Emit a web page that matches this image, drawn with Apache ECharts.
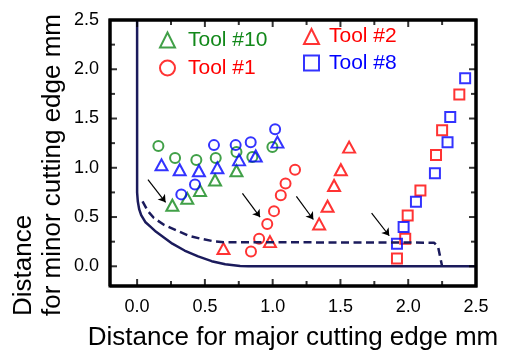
<!DOCTYPE html>
<html><head><meta charset="utf-8">
<script src="https://cdn.jsdelivr.net/npm/echarts@6/dist/echarts.min.js"></script>
<style>html,body{margin:0;padding:0;background:#fff}#c{width:507px;height:356px}</style>
</head><body><div id="c"></div>
<script>
// ---- axis extents and tick values ----
const AX_MIN = -0.2, AX_MAX = 2.5;
const xTickLabels = [0, 0.5, 1, 1.5, 2, 2.5];
const xMinorTicks = [0.25, 0.75, 1.25, 1.75, 2.25];
const yTickLabels = [0, 0.5, 1, 1.5, 2, 2.5];
const yMinorTicks = [0.25, 0.75, 1.25, 1.75, 2.25];

// ---- curves ----
const solidCurve = [[0,2.5],[0,0.75],[0.005,0.66],[0.015,0.58],[0.03,0.52],[0.06,0.45],[0.1,0.40],[0.14,0.35],[0.18,0.31],[0.26,0.23],[0.35,0.16],[0.45,0.10],[0.55,0.052],[0.65,0.02],[0.76,0.002],[0.82,0],[2.5,0]];
const dashedCurve = [[0.04,0.66],[0.08,0.56],[0.124,0.49],[0.2,0.42],[0.297,0.36],[0.38,0.31],[0.469,0.28],[0.56,0.255],[0.64,0.245],[2.19,0.24],[2.22,0.2],[2.25,0]];

// ---- markers ----
const tool10Triangles = [[0.26,0.62],[0.37,0.69],[0.464,0.77],[0.575,0.876],[0.733,0.97]];
const greenCircles    = [[0.157,1.22],[0.28,1.10],[0.437,1.08],[0.58,1.10],[0.733,1.16],[0.85,1.11],[0.998,1.21]];
const blueTriangles   = [[0.18,1.03],[0.314,0.98],[0.456,0.97],[0.592,1.00],[0.752,1.08],[0.875,1.12],[1.035,1.26]];
const blueCircles     = [[0.326,0.73],[0.427,0.83],[0.567,1.23],[0.727,1.23],[0.838,1.26],[1.018,1.39]];
const tool1Circles    = [[0.84,0.15],[0.90,0.28],[0.96,0.43],[1.01,0.56],[1.06,0.72],[1.095,0.84],[1.165,0.98]];
const tool2Triangles  = [[0.637,0.18],[0.98,0.25],[1.343,0.43],[1.405,0.61],[1.453,0.82],[1.503,0.98],[1.564,1.21]];
const redSquares      = [[1.917,0.08],[1.978,0.28],[1.996,0.515],[2.09,0.77],[2.205,1.13],[2.25,1.38],[2.377,1.745]];
const tool8Squares    = [[1.917,0.23],[1.966,0.40],[2.057,0.655],[2.197,0.945],[2.29,1.26],[2.31,1.515],[2.42,1.91]];

// ---- arrows ----
const arrowStarts = [[0.08,0.88],[0.777,0.74],[1.175,0.71],[1.73,0.54]];
const arrowEnds   = [[0.21,0.65],[0.907,0.50],[1.30,0.475],[1.86,0.31]];

const GREEN = '#12881a', RED = '#ff0000', BLUE = '#0000ff', NAVY = '#1b1b5c';
const FONT = '"Liberation Sans", Arial, sans-serif';
const HOLLOW = 'rgba(0,0,0,0)';

function isHalf(v) { return Math.abs(v * 2 - Math.round(v * 2)) < 1e-6 && v > -0.01; }
function scatter(name, data, symbol, size, color) {
  return { type: 'scatter', name, data, symbol, symbolSize: size,
    itemStyle: { color: HOLLOW, borderColor: color, borderWidth: 2 } };
}
// inward tick marks: small bars anchored on the frame at the tick values, shifted inward
function ticks(points, size, offset) {
  return { type: 'scatter', name: 'ticks', data: points, symbol: 'rect', symbolSize: size, symbolOffset: offset,
    clip: false, z: 6, itemStyle: { color: '#000', borderWidth: 0 } };
}
const frameCorners = [[AX_MIN, AX_MIN], [AX_MAX, AX_MIN], [AX_MAX, AX_MAX], [AX_MIN, AX_MAX], [AX_MIN, AX_MIN]];

const chart = echarts.init(document.getElementById('c'));
chart.setOption({
  animation: false,
  grid: { left: 110, right: 31, top: 20, bottom: 62.5, show: true, borderColor: '#000', borderWidth: 3 },
  xAxis: { type: 'value', min: AX_MIN, max: AX_MAX, splitNumber: 5, splitLine: { show: false },
    axisLine: { show: false, onZero: false }, axisTick: { show: false },
    axisLabel: { formatter: v => isHalf(v) ? v.toFixed(1) : '', fontSize: 18, color: '#000', fontFamily: FONT, margin: 12 },
    name: 'Distance for major cutting edge mm', nameLocation: 'middle', nameGap: 39,
    nameTextStyle: { fontSize: 26, fontFamily: FONT, color: '#000' } },
  yAxis: { type: 'value', min: AX_MIN, max: AX_MAX, splitNumber: 5, splitLine: { show: false },
    axisLine: { show: false, onZero: false }, axisTick: { show: false },
    axisLabel: { formatter: v => isHalf(v) ? v.toFixed(1) : '', fontSize: 18, color: '#000', fontFamily: FONT, margin: 11 } },
  legend: [
    { left: 159, top: 29.5, orient: 'vertical', itemWidth: 15, itemHeight: 15, itemGap: 7, padding: 0, selectedMode: false,
      textStyle: { fontSize: 21, fontFamily: FONT, padding: [0, 0, 0, 8] },
      data: [
        { name: 'Tool #10', icon: 'triangle', itemStyle: { color: HOLLOW, borderColor: GREEN, borderWidth: 2 }, textStyle: { color: GREEN } },
        { name: 'Tool #1', icon: 'circle', itemStyle: { color: HOLLOW, borderColor: RED, borderWidth: 2 }, textStyle: { color: RED } }
      ] },
    { left: 303, top: 26, orient: 'vertical', itemWidth: 15, itemHeight: 15, itemGap: 5.5, padding: 0, selectedMode: false,
      textStyle: { fontSize: 21, fontFamily: FONT, padding: [0, 0, 0, 5] },
      data: [
        { name: 'Tool #2', icon: 'triangle', itemStyle: { color: HOLLOW, borderColor: RED, borderWidth: 2 }, textStyle: { color: RED } },
        { name: 'Tool #8', icon: 'rect', itemStyle: { color: HOLLOW, borderColor: BLUE, borderWidth: 2 }, textStyle: { color: BLUE } }
      ] }
  ],
  graphic: [{
    type: 'text', x: 38, y: 316, rotation: Math.PI / 2, silent: true,
    style: { text: 'Distance\nfor minor cutting edge mm', font: '26px ' + FONT, fill: '#000',
      textAlign: 'left', textVerticalAlign: 'middle', align: 'left', verticalAlign: 'middle', lineHeight: 29 }
  }],
  series: [
    { type: 'line', name: 'limit', data: solidCurve, showSymbol: false, symbol: 'none',
      lineStyle: { color: NAVY, width: 2.5 } },
    { type: 'line', name: 'boundary', data: dashedCurve, showSymbol: false, symbol: 'none',
      lineStyle: { color: NAVY, width: 2.5, type: [8, 4.5] },
      markLine: { silent: true, symbol: ['none', 'arrow'], symbolSize: 7, label: { show: false },
        lineStyle: { color: '#000', width: 1.2, type: 'solid' },
        data: arrowStarts.map((s, i) => [{ coord: s }, { coord: arrowEnds[i] }]) } },
    scatter('Tool #10', tool10Triangles, 'triangle', [12, 11], GREEN),
    scatter('Tool #10 (o)', greenCircles, 'circle', 10, GREEN),
    scatter('Tool #8 (tri)', blueTriangles, 'triangle', [12, 11], BLUE),
    scatter('Tool #8 (o)', blueCircles, 'circle', 10, BLUE),
    scatter('Tool #1', tool1Circles, 'circle', 10, RED),
    scatter('Tool #2', tool2Triangles, 'triangle', [12, 11], RED),
    scatter('Tool #1 (sq)', redSquares, 'rect', 10, RED),
    scatter('Tool #8', tool8Squares, 'rect', 10, BLUE),
    // plot frame along the axis extents
    { type: 'line', name: 'frame', data: frameCorners, showSymbol: false, symbol: 'none', clip: false, z: 5,
      lineStyle: { color: '#000', width: 3, join: 'miter' } },
    // major and minor ticks on all four sides
    ticks(xTickLabels.map(v => [v, AX_MIN]), [2, 7], [0, -3.5]),
    ticks(xTickLabels.map(v => [v, AX_MAX]), [2, 7], [0, 3.5]),
    ticks(xMinorTicks.map(v => [v, AX_MIN]), [2, 5], [0, -2.5]),
    ticks(xMinorTicks.map(v => [v, AX_MAX]), [2, 5], [0, 2.5]),
    ticks(yTickLabels.map(v => [AX_MIN, v]), [7, 2], [3.5, 0]),
    ticks(yTickLabels.map(v => [AX_MAX, v]), [7, 2], [-3.5, 0]),
    ticks(yMinorTicks.map(v => [AX_MIN, v]), [5, 2], [2.5, 0]),
    ticks(yMinorTicks.map(v => [AX_MAX, v]), [5, 2], [-2.5, 0])
  ]
});
</script></body></html>
